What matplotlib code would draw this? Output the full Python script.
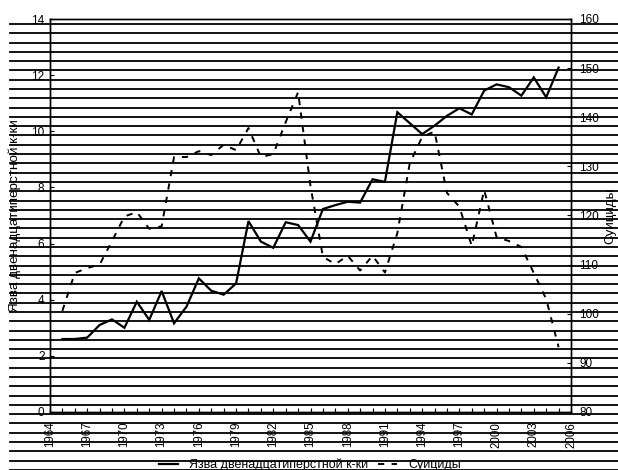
import matplotlib
matplotlib.use("Agg")
import matplotlib.pyplot as plt
from matplotlib.lines import Line2D

plt.rcParams['font.family'] = ['Liberation Sans', 'DejaVu Sans']

years = list(range(1965, 2006))
ulcer = [2.6, 2.6, 2.65, 3.1, 3.3, 3.0, 3.93, 3.28, 4.31, 3.16,
         3.75, 4.76, 4.32, 4.18, 4.58, 6.8, 6.07, 5.85, 6.76, 6.66,
         6.07, 7.23, 7.37, 7.49, 7.46, 8.29, 8.2, 10.68, 10.29, 9.9,
         10.2, 10.55, 10.82, 10.6, 11.45, 11.67, 11.57, 11.27, 11.92, 11.21,
         12.27]
suicides = [100.6, 108.3, 109.3, 110.0, 114.8, 119.8, 120.7, 117.3, 117.8, 131.9,
            131.9, 133.1, 132.3, 134.4, 133.3, 137.8, 131.9, 132.5, 139.0, 145.1,
            126.0, 111.6, 110.1, 111.8, 108.8, 111.8, 108.4, 116.4, 130.6, 136.0,
            137.1, 124.6, 121.8, 113.8, 125.2, 115.6, 114.8, 113.6, 108.3, 103.0,
            93.2]
xtick_years = list(range(1964, 2007, 3))
left_ticks = list(range(0, 15, 2))
right_ticks = list(range(80, 161, 10))
label_left = "Язва двенадцатиперстной к-ки"
label_right = "Суициды"

W, H = 618, 470
fig = plt.figure(figsize=(W / 100, H / 100), dpi=100)
ax = fig.add_axes([50 / W, 1 - 412 / H, 521 / W, 393 / H])
ax2 = ax.twinx()

l1, = ax.plot(years, ulcer, color='black', lw=1.6, solid_joinstyle='miter')
l2, = ax2.plot(years, suicides, color='black', lw=1.4)
l2.set_dashes((3.2, 3.8))

ax.set_xlim(1964, 2006)
ax.set_ylim(0, 14)
ax2.set_ylim(80, 160)

ax.set_xticks(xtick_years)
ax.set_xticklabels([str(y) for y in xtick_years], rotation=90, fontsize=8.3)
ax.set_xticks(range(1964, 2007), minor=True)
ax.set_yticks(left_ticks)
ax.set_yticklabels([str(v) for v in left_ticks], fontsize=8.5)
ax2.set_yticks(right_ticks)
ax2.set_yticklabels([str(v) for v in right_ticks], fontsize=8.5)

ax.tick_params(axis='x', which='both', direction='in', length=3, width=0.8, pad=7)
ax.tick_params(axis='y', direction='in', length=3, width=0.8, pad=4)
ax2.tick_params(axis='y', direction='in', length=3, width=0.8, pad=6)

for a in (ax, ax2):
    for s in a.spines.values():
        s.set_linewidth(1.0)
        s.set_color('black')

ax.set_ylabel(label_left, fontsize=9.7)
ax.yaxis.set_label_coords(-0.055, 0.5)
ax2.set_ylabel(label_right, fontsize=9.7)
ax2.yaxis.set_label_coords(1.064, 0.5)

h1 = Line2D([], [], color='black', lw=1.6)
h2 = Line2D([], [], color='black', lw=1.4)
h2.set_dashes((3.2, 3.8))
fig.legend([h1, h2], [label_left, label_right], loc='center',
           bbox_to_anchor=(310 / W, 1 - 465 / H), ncol=2, frameon=False,
           fontsize=9, handlelength=1.5, handletextpad=0.9, columnspacing=0.8,
           borderpad=0)

# scan interference lines visible across the reference picture
for k in range(49):
    yp = 24 + 9.29 * k
    fig.add_artist(Line2D([10 / W, 1.0], [1 - yp / H, 1 - yp / H],
                          transform=fig.transFigure, color='black', lw=1.3,
                          zorder=10))

fig.savefig("out.png", dpi=100)
